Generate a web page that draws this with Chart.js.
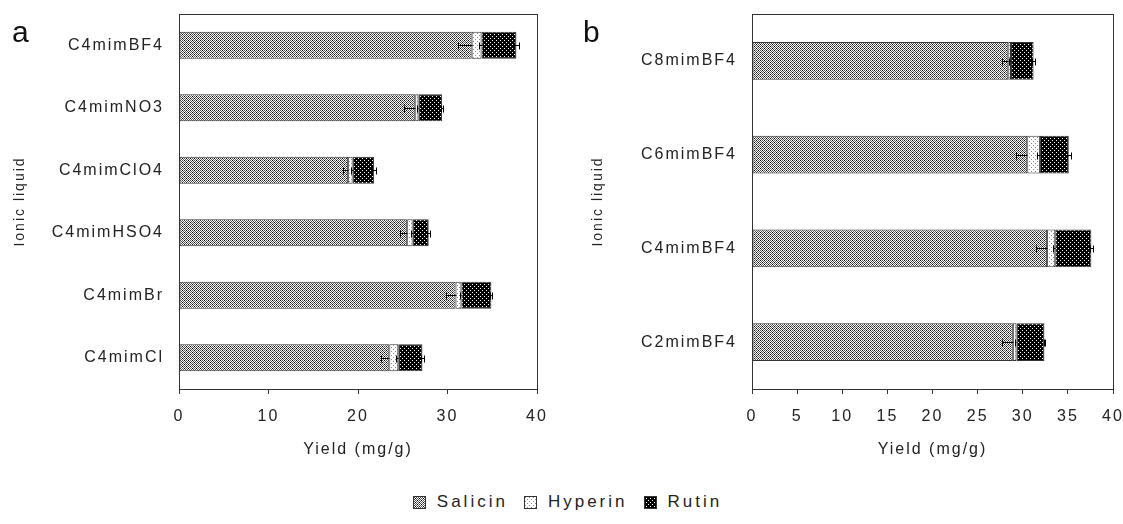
<!DOCTYPE html>
<html><head><meta charset="utf-8">
<script src="https://cdn.jsdelivr.net/npm/chart.js@4.4.1/dist/chart.umd.min.js"></script>
<style>
html,body{margin:0;padding:0;background:#fff;}
body{width:1123px;height:524px;position:relative;overflow:hidden;font-family:"Liberation Sans",Arial,sans-serif;color:#222;}
#ca{position:absolute;left:0;top:0;}
#cb{position:absolute;left:556px;top:0;}
.pl{position:absolute;font-size:30px;line-height:30px;color:#111;}
#legend{position:absolute;left:6px;width:1123px;top:491px;text-align:center;font-size:17px;letter-spacing:3px;line-height:22px;white-space:nowrap;}
#legend .it{display:inline-flex;align-items:center;margin:0 8px;}
#legend canvas{margin-right:11px;}
</style></head>
<body>
<canvas id="ca" width="560" height="470"></canvas>
<canvas id="cb" width="580" height="470"></canvas>
<div class="pl" style="left:12px;top:17px;">a</div>
<div class="pl" style="left:583px;top:17px;">b</div>
<div id="legend"></div>
<script>
// ---- data ----
const seriesNames = ['Salicin', 'Hyperin', 'Rutin'];

const catsA = ['C4mimBF4', 'C4mimNO3', 'C4mimClO4', 'C4mimHSO4', 'C4mimBr', 'C4mimCl'];
const salicinA = [32.7, 26.4, 18.9, 25.5, 30.9, 23.5];
const hyperinA = [1.1, 0.35, 0.5, 0.6, 0.65, 1.0];
const rutinA   = [3.9, 2.65, 2.4, 1.8, 3.35, 2.7];
const errSalA = [1.5, 1.3, 0.6, 0.8, 1.1, 0.9];
const errHypA = [0.3, 0.2, 0.2, 0.2, 0.2, 0.3];
const errRutA = [0.3, 0.1, 0.2, 0.2, 0.1, 0.2];

const catsB = ['C8mimBF4', 'C6mimBF4', 'C4mimBF4', 'C2mimBF4'];
const salicinB = [28.4, 30.5, 32.7, 28.9];
const hyperinB = [0.3, 1.4, 0.9, 0.4];
const rutinB   = [2.5, 3.2, 4.0, 3.1];
const errSalB = [0.7, 1.2, 1.2, 1.2];
const errHypB = [0.2, 0.3, 0.2, 0.2];
const errRutB = [0.2, 0.2, 0.2, 0.1];

const ticksA = {min: 0, max: 40, step: 10};
const ticksB = {min: 0, max: 40, step: 5};

// ---- patterns ----
function makeTile(rows) {
  const c = document.createElement('canvas');
  c.width = rows[0].length; c.height = rows.length;
  const g = c.getContext('2d');
  rows.forEach((r, y) => r.forEach((col, x) => { g.fillStyle = col; g.fillRect(x, y, 1, 1); }));
  return c;
}
const K = '#000', W = '#fff', G = '#555', L = '#888';
const tiles = [
  makeTile([[K, W, G, W], [W, G, W, G], [G, W, K, W], [W, G, W, G]]),
  makeTile([[W, W, W, W], [W, L, W, W], [W, W, W, W], [W, W, W, L]]),
  makeTile([[W, K, K, K], [K, K, K, K], [K, K, W, K], [K, K, K, K]])
];
const pctx = document.createElement('canvas').getContext('2d');
const patterns = tiles.map(t => pctx.createPattern(t, 'repeat'));

// ---- plugins ----
const spacing = {id: 'spacing', beforeDraw(chart) { chart.ctx.letterSpacing = '2px'; }};
const frame = {id: 'frame', afterDraw(chart) {
  const a = chart.chartArea, ctx = chart.ctx;
  ctx.save(); ctx.strokeStyle = '#333'; ctx.lineWidth = 1;
  ctx.strokeRect(Math.round(a.left) + 0.5, Math.round(a.top) + 0.5, Math.round(a.right - a.left), Math.round(a.bottom - a.top));
  ctx.restore();
}};
const errorBars = {id: 'errorBars', afterDatasetsDraw(chart, args, opts) {
  const ctx = chart.ctx, xs = chart.scales.x;
  const dss = chart.data.datasets, n = dss.length;
  ctx.save(); ctx.strokeStyle = '#000'; ctx.lineWidth = 1;
  dss.forEach((ds, i) => {
    const meta = chart.getDatasetMeta(i);
    meta.data.forEach((bar, j) => {
      let end = 0; for (let k = 0; k <= i; k++) end += dss[k].data[j];
      const e = opts.errors[i][j], y = Math.round(bar.y) + 0.5;
      const x0 = Math.round(xs.getPixelForValue(end - e)) + 0.5;
      const x1 = Math.round(xs.getPixelForValue(i === n - 1 ? end + e : end)) + 0.5;
      ctx.beginPath();
      ctx.moveTo(x0, y); ctx.lineTo(x1, y);
      ctx.moveTo(x0, y - 3); ctx.lineTo(x0, y + 4);
      if (i === n - 1) { ctx.moveTo(x1, y - 3); ctx.lineTo(x1, y + 4); }
      ctx.stroke();
    });
  });
  ctx.restore();
}};

Chart.defaults.font.family = '"Liberation Sans", Arial, sans-serif';
Chart.defaults.font.size = 16;
Chart.defaults.color = '#222';

function build(id, cats, s, h, r, errs, tk, yw, titlePad, catPct) {
  const vals = [s, h, r];
  return new Chart(document.getElementById(id), {
    type: 'bar',
    data: {
      labels: cats,
      datasets: seriesNames.map((nm, i) => ({
        label: nm, data: vals[i], backgroundColor: patterns[i],
        borderColor: '#333', borderWidth: 1, borderSkipped: false,
        barPercentage: 0.9, categoryPercentage: catPct
      }))
    },
    options: {
      indexAxis: 'y', responsive: false, animation: false, devicePixelRatio: 1,
      layout: {padding: {left: 0, right: 23, top: 14, bottom: 0}},
      plugins: {legend: {display: false}, tooltip: {enabled: false}, errorBars: {errors: errs}},
      scales: {
        x: {type: 'linear', stacked: true, min: tk.min, max: tk.max, position: 'bottom',
          ticks: {stepSize: tk.step, padding: 13, color: '#222', font: {size: 16}},
          grid: {drawOnChartArea: false, drawTicks: true, tickLength: 5, color: '#333'},
          border: {display: true, color: '#333', width: 1},
          title: {display: true, text: 'Yield (mg/g)', color: '#222', font: {size: 16}, padding: {top: 0, bottom: 11}},
          afterFit(sc) { sc.height = 81; }
        },
        y: {type: 'category', stacked: true,
          ticks: {padding: 7, color: '#222', font: {size: 16}},
          grid: {display: false},
          border: {display: true, color: '#333', width: 1},
          title: {display: true, text: 'Ionic liquid', color: '#222', font: {size: 14}, padding: {top: titlePad, bottom: 0}},
          afterFit(sc) { sc.width = yw; sc.paddingTop = 0; sc.paddingBottom = 0; }
        }
      }
    },
    plugins: [spacing, errorBars, frame]
  });
}
build('ca', catsA, salicinA, hyperinA, rutinA, [errSalA, errHypA, errRutA], ticksA, 179, 12, 0.48);
build('cb', catsB, salicinB, hyperinB, rutinB, [errSalB, errHypB, errRutB], ticksB, 196, 34, 0.45);

// ---- legend ----
const leg = document.getElementById('legend');
seriesNames.forEach((nm, i) => {
  const it = document.createElement('span'); it.className = 'it';
  const c = document.createElement('canvas'); c.width = 13; c.height = 13;
  const g = c.getContext('2d');
  g.fillStyle = g.createPattern(tiles[i], 'repeat'); g.fillRect(0, 0, 13, 13);
  g.strokeStyle = '#333'; g.strokeRect(0.5, 0.5, 12, 12);
  it.appendChild(c);
  const t = document.createElement('span'); t.textContent = nm;
  it.appendChild(t); leg.appendChild(it);
});
</script>
</body></html>
